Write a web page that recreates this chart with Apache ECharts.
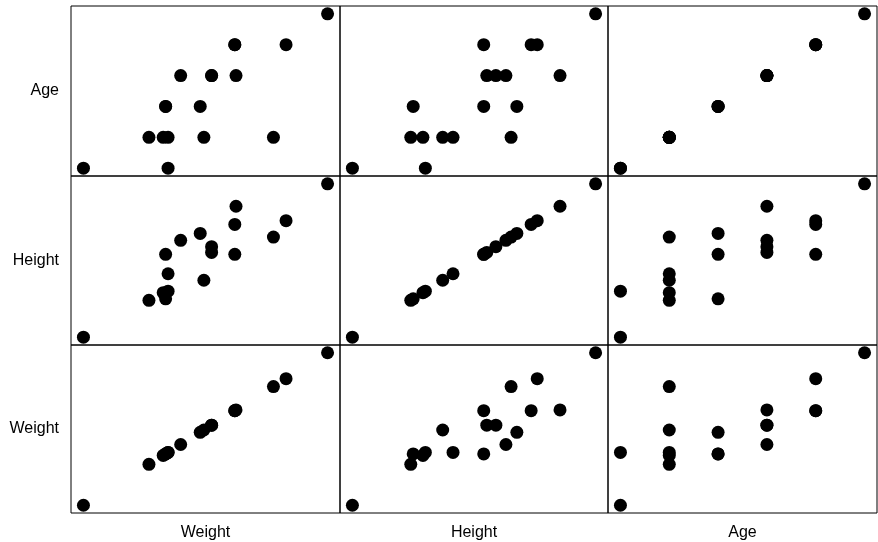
<!DOCTYPE html>
<html>
<head>
<meta charset="utf-8">
<script src="https://cdn.jsdelivr.net/npm/echarts@6/dist/echarts.min.js"></script>
<style>html,body{margin:0;padding:0;background:#fff;}#c{width:878px;height:542px;}</style>
</head>
<body>
<div id="c"></div>
<script>
// Data: one entry per person
const ages    = [20, 20, 25, 25, 25, 25, 25, 30, 30, 30, 35, 35, 35, 35, 40, 40, 40, 45];
const heights = [100.0, 124.0, 119.2, 123.2, 129.7, 133.1, 152.2, 120.0, 143.2, 154.1, 144.2, 147.2, 150.5, 168.3, 143.2, 158.8, 160.8, 180.0];
const weights = [20.0, 40.8, 36.1, 39.6, 49.6, 40.8, 66.7, 40.2, 40.2, 48.7, 51.5, 51.5, 43.9, 57.5, 57.2, 57.2, 69.8, 80.0];

const colNames = ['Weight', 'Height', 'Age'];
const rowNames = ['Age', 'Height', 'Weight'];
const vars = { Weight: weights, Height: heights, Age: ages };

function ext(arr) {
  const mn = Math.min(...arr), mx = Math.max(...arr), r = mx - mn;
  return [mn - 0.051 * r, mx + 0.051 * r];
}

const colLeft = [71, 340, 608], colW = [269, 268, 269];
const rowTop = [6, 176, 345], rowH = [170, 169, 168];

const grid = [], xAxis = [], yAxis = [], series = [];
let k = 0;
for (let r = 0; r < 3; r++) {
  for (let c = 0; c < 3; c++) {
    grid.push({ left: colLeft[c], top: rowTop[r], width: colW[c], height: rowH[r],
      show: true, borderColor: '#000', borderWidth: 1, backgroundColor: 'transparent' });
    const xe = ext(vars[colNames[c]]), ye = ext(vars[rowNames[r]]);
    xAxis.push({ type: 'value', gridIndex: k, min: xe[0], max: xe[1],
      axisLine: { show: false }, axisTick: { show: false }, axisLabel: { show: false }, splitLine: { show: false },
      name: r === 2 ? colNames[c] : '', nameLocation: 'middle', nameGap: 12,
      nameTextStyle: { color: '#000', fontSize: 16, fontFamily: 'Liberation Sans' } });
    yAxis.push({ type: 'value', gridIndex: k, min: ye[0], max: ye[1],
      axisLine: { show: false }, axisTick: { show: false }, axisLabel: { show: false }, splitLine: { show: false },
      name: c === 0 ? rowNames[r] : '', nameLocation: 'middle', nameRotate: 0, nameGap: 12,
      nameTextStyle: { color: '#000', fontSize: 16, fontFamily: 'Liberation Sans', align: 'right' } });
    const xs = vars[colNames[c]], ys = vars[rowNames[r]];
    series.push({ type: 'scatter', xAxisIndex: k, yAxisIndex: k, symbolSize: 13,
      itemStyle: { color: '#000', opacity: 1 }, silent: true,
      data: xs.map((v, i) => [v, ys[i]]) });
    k++;
  }
}

const chart = echarts.init(document.getElementById('c'), null, { renderer: 'canvas' });
chart.setOption({ animation: false, backgroundColor: '#fff', grid, xAxis, yAxis, series });
</script>
</body>
</html>
